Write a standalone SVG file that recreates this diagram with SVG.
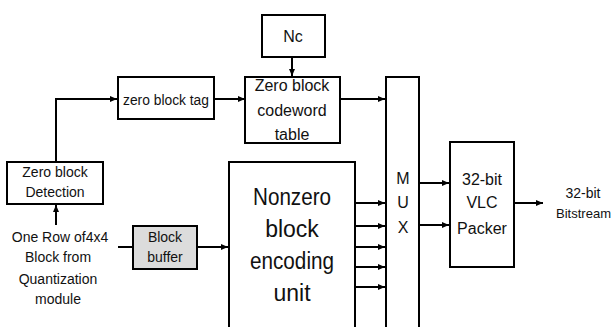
<svg xmlns="http://www.w3.org/2000/svg" width="613" height="327" viewBox="0 0 613 327">
<defs>
<marker id="ah" markerWidth="8" markerHeight="8" refX="7" refY="4" orient="auto" markerUnits="userSpaceOnUse">
<path d="M0,1 L7,4 L0,7 Z" fill="#000"/>
</marker>
<style>
.box{fill:#fff;stroke:#000;stroke-width:2}
.gray{fill:#dcdcdc;stroke:#000;stroke-width:2}
.ln{fill:none;stroke:#000;stroke-width:2}
.arr{fill:none;stroke:#000;stroke-width:2;marker-end:url(#ah)}
text{font-family:"Liberation Sans",Arial,sans-serif;fill:#111;text-anchor:middle}
.s14{font-size:14px}
.s16{font-size:16px}
.big{font-size:23px}
</style>
</defs>
<rect width="613" height="327" fill="#fff"/>
<g id="connectors">
<polyline class="arr" points="56,162 56,99 117,99"/>
<line class="arr" x1="214" y1="99" x2="245" y2="99"/>
<line class="arr" x1="292" y1="57" x2="292" y2="76"/>
<line class="arr" x1="340" y1="99" x2="385" y2="99"/>
<line class="arr" x1="56" y1="225" x2="56" y2="205"/>
<line class="ln" x1="118" y1="247" x2="133" y2="247"/>
<line class="arr" x1="197" y1="247" x2="228" y2="247"/>
<line class="arr" x1="355" y1="203" x2="385" y2="203"/>
<line class="arr" x1="355" y1="226" x2="385" y2="226"/>
<line class="arr" x1="355" y1="247" x2="385" y2="247"/>
<line class="arr" x1="355" y1="267" x2="385" y2="267"/>
<line class="arr" x1="355" y1="287" x2="385" y2="287"/>
<line class="arr" x1="419" y1="183" x2="449" y2="183"/>
<line class="arr" x1="419" y1="225" x2="449" y2="225"/>
<line class="arr" x1="514" y1="203" x2="543" y2="203"/>
</g>
<g id="nc">
<rect class="box" x="262" y="15" width="63" height="42"/>
<text class="s16" x="293" y="42">Nc</text>
</g>
<g id="tag">
<rect class="box" x="118" y="77" width="96" height="42"/>
<text class="s14" x="166" y="105" textLength="86" lengthAdjust="spacingAndGlyphs">zero block tag</text>
</g>
<g id="table">
<rect class="box" x="245" y="77" width="95" height="66"/>
<text class="s16" x="292" y="91">Zero block</text>
<text class="s16" x="292" y="116">codeword</text>
<text class="s16" x="292" y="140">table</text>
</g>
<g id="detection">
<rect class="box" x="7" y="162" width="96" height="42"/>
<text class="s14" x="55" y="177">Zero block</text>
<text class="s14" x="55" y="197">Detection</text>
</g>
<g id="input">
<text class="s14" x="60" y="242">One Row of4x4</text>
<text class="s14" x="58" y="262">Block from</text>
<text class="s14" x="58" y="284">Quantization</text>
<text class="s14" x="58" y="304">module</text>
</g>
<g id="buffer">
<rect class="gray" x="133" y="226" width="64" height="43"/>
<text class="s14" x="165" y="242">Block</text>
<text class="s14" x="165" y="262">buffer</text>
</g>
<g id="nonzero">
<rect class="box" x="229" y="162" width="126" height="170"/>
<text class="big" x="292" y="205" textLength="78" lengthAdjust="spacingAndGlyphs">Nonzero</text>
<text class="big" x="292" y="237">block</text>
<text class="big" x="292" y="269" textLength="84" lengthAdjust="spacingAndGlyphs">encoding</text>
<text class="big" x="292" y="301">unit</text>
</g>
<g id="mux">
<rect class="box" x="386" y="77" width="33" height="260"/>
<text class="s16" x="403" y="184">M</text>
<text class="s16" x="403" y="208">U</text>
<text class="s16" x="403" y="233">X</text>
</g>
<g id="packer">
<rect class="box" x="450" y="142" width="64" height="125"/>
<text class="s16" x="482" y="185">32-bit</text>
<text class="s16" x="482" y="208">VLC</text>
<text class="s16" x="482" y="234">Packer</text>
</g>
<g id="output">
<text class="s14" x="583" y="198">32-bit</text>
<text x="556" y="218" style="text-anchor:start;font-size:13px" textLength="55" lengthAdjust="spacingAndGlyphs">Bitstream</text>
</g>
</svg>
